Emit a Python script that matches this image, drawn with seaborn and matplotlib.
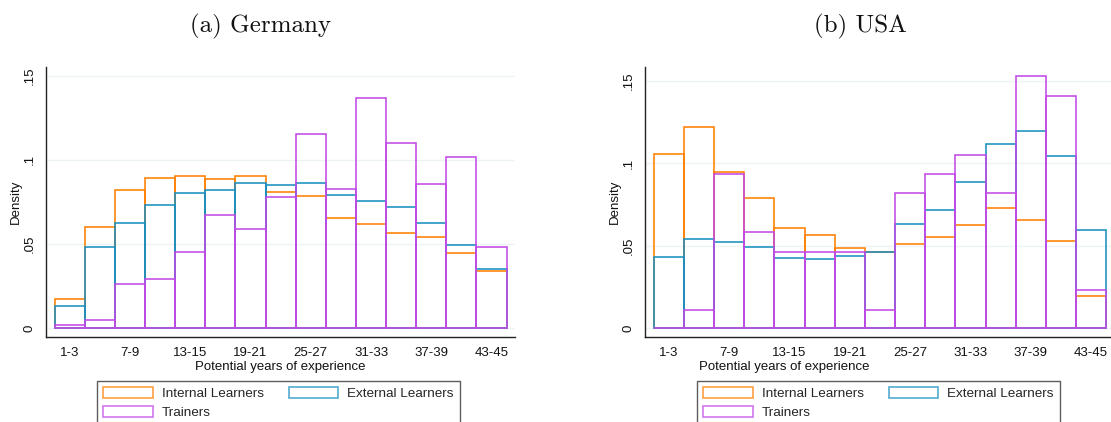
import numpy as np
import pandas as pd
import matplotlib
matplotlib.use("Agg")
import matplotlib.pyplot as plt
from matplotlib.patches import Patch
import seaborn as sns

# Experience bins (3-year groups)
bins = ["1-3", "4-6", "7-9", "10-12", "13-15", "16-18", "19-21", "22-24",
        "25-27", "28-30", "31-33", "34-36", "37-39", "40-42", "43-45"]
shown_ticks = ["1-3", "7-9", "13-15", "19-21", "25-27", "31-33", "37-39", "43-45"]

# Germany densities
de_internal = [0.0172, 0.0598, 0.0821, 0.0891, 0.0902, 0.0885, 0.0904, 0.0807,
               0.0782, 0.0657, 0.0617, 0.0562, 0.0542, 0.0445, 0.0338]
de_external = [0.0133, 0.0479, 0.0627, 0.0734, 0.0805, 0.0823, 0.0865, 0.0853,
               0.0861, 0.0790, 0.0758, 0.0718, 0.0627, 0.0493, 0.0348]
de_trainers = [0.0020, 0.0047, 0.0263, 0.0291, 0.0451, 0.0669, 0.0586, 0.0778,
               0.1154, 0.0829, 0.1369, 0.1100, 0.0857, 0.1019, 0.0479]

# USA densities
us_internal = [0.1054, 0.1217, 0.0949, 0.0787, 0.0606, 0.0565, 0.0485, 0.0460,
               0.0511, 0.0551, 0.0626, 0.0725, 0.0656, 0.0527, 0.0192]
us_external = [0.0430, 0.0541, 0.0519, 0.0491, 0.0426, 0.0416, 0.0434, 0.0462,
               0.0632, 0.0717, 0.0888, 0.1119, 0.1193, 0.1044, 0.0596]
us_trainers = [0.0000, 0.0111, 0.0935, 0.0581, 0.0462, 0.0462, 0.0462, 0.0111,
               0.0818, 0.0935, 0.1052, 0.0818, 0.1526, 0.1409, 0.0230]

series_names = ["Internal Learners", "External Learners", "Trainers"]
colors = ["#ff8000", "#1a8fc0", "#c24ae6"]

y_ticks = [0, 0.05, 0.10, 0.15]
y_ticklabels = ["0", ".05", ".1", ".15"]

sns.set_theme(style="white")
plt.rcParams["font.family"] = ["Liberation Sans", "DejaVu Sans"]

W, H = 1111, 422
fig = plt.figure(figsize=(W / 100, H / 100), dpi=100)


def px_rect(left, top, right, bottom):
    return [left / W, 1 - bottom / H, (right - left) / W, (bottom - top) / H]


panels = [
    dict(title="(a) Germany", title_x=260, rect=px_rect(46, 67, 515, 336.7),
         ylim=(-0.00517, 0.1552), xlabel_x=280,
         legend_xy=(97, 381), data=[de_internal, de_external, de_trainers]),
    dict(title="(b) USA", title_x=860, rect=px_rect(645, 67, 1114.6, 336.7),
         ylim=(-0.00528, 0.1583), xlabel_x=784,
         legend_xy=(697, 381), data=[us_internal, us_external, us_trainers]),
]

for p in panels:
    ax = fig.add_axes(p["rect"])
    ax_w_px = p["rect"][2] * W
    for name, vals, c in zip(series_names, p["data"], colors):
        df = pd.DataFrame({"bin": bins, "density": vals})
        sns.barplot(data=df, x="bin", y="density", order=bins, ax=ax,
                    fill=False, color=c, saturation=1, width=1.0,
                    linewidth=1.15, errorbar=None)

    ax.set_xlim(-0.79, 14.78)
    ax.set_ylim(*p["ylim"])
    ax.set_yticks(y_ticks)
    ax.set_yticklabels(y_ticklabels, rotation=90, va="center", fontsize=9.5)
    tick_pos = [bins.index(t) for t in shown_ticks]
    ax.set_xticks(tick_pos)
    ax.set_xticklabels(shown_ticks, fontsize=9.5)
    ax.tick_params(axis="both", direction="out", length=4.5, width=0.9,
                   color="#222222", pad=3, labelcolor="#111111")
    ax.grid(axis="y", color="#edf3f4", linewidth=1.0)
    ax.set_axisbelow(True)
    for side in ["top", "right"]:
        ax.spines[side].set_visible(False)
    for side in ["left", "bottom"]:
        ax.spines[side].set_color("#222222")
        ax.spines[side].set_linewidth(1.0)

    ax.set_ylabel("Density", fontsize=9.5, color="#111111")
    ax.yaxis.set_label_coords((22 - 46) / ax_w_px, 0.5)
    ax.set_xlabel("")
    fig.text(p["xlabel_x"] / W, 1 - 367 / H, "Potential years of experience",
             ha="center", va="center", fontsize=9.5, color="#111111")

    fig.text(p["title_x"] / W, 1 - 26 / H, p["title"], ha="center",
             va="center", fontsize=18, family=["cmr10", "DejaVu Serif"],
             color="#111111")

    handles = [Patch(facecolor="none", edgecolor=c, linewidth=1.2, alpha=0.75)
               for c in colors]
    order = [0, 2, 1]
    lx, ly = p["legend_xy"]
    leg = fig.legend([handles[i] for i in order],
                     [series_names[i] for i in order],
                     loc="upper left", bbox_to_anchor=(lx / W, 1 - ly / H),
                     ncol=2, fontsize=9.7, frameon=True, fancybox=False,
                     handlelength=3.7, handleheight=0.9, handletextpad=0.65,
                     columnspacing=1.85, borderpad=0.45, labelspacing=0.4,
                     borderaxespad=0)
    leg.get_frame().set_edgecolor("#333333")
    leg.get_frame().set_linewidth(1.0)

fig.savefig("out.png", dpi=100)
